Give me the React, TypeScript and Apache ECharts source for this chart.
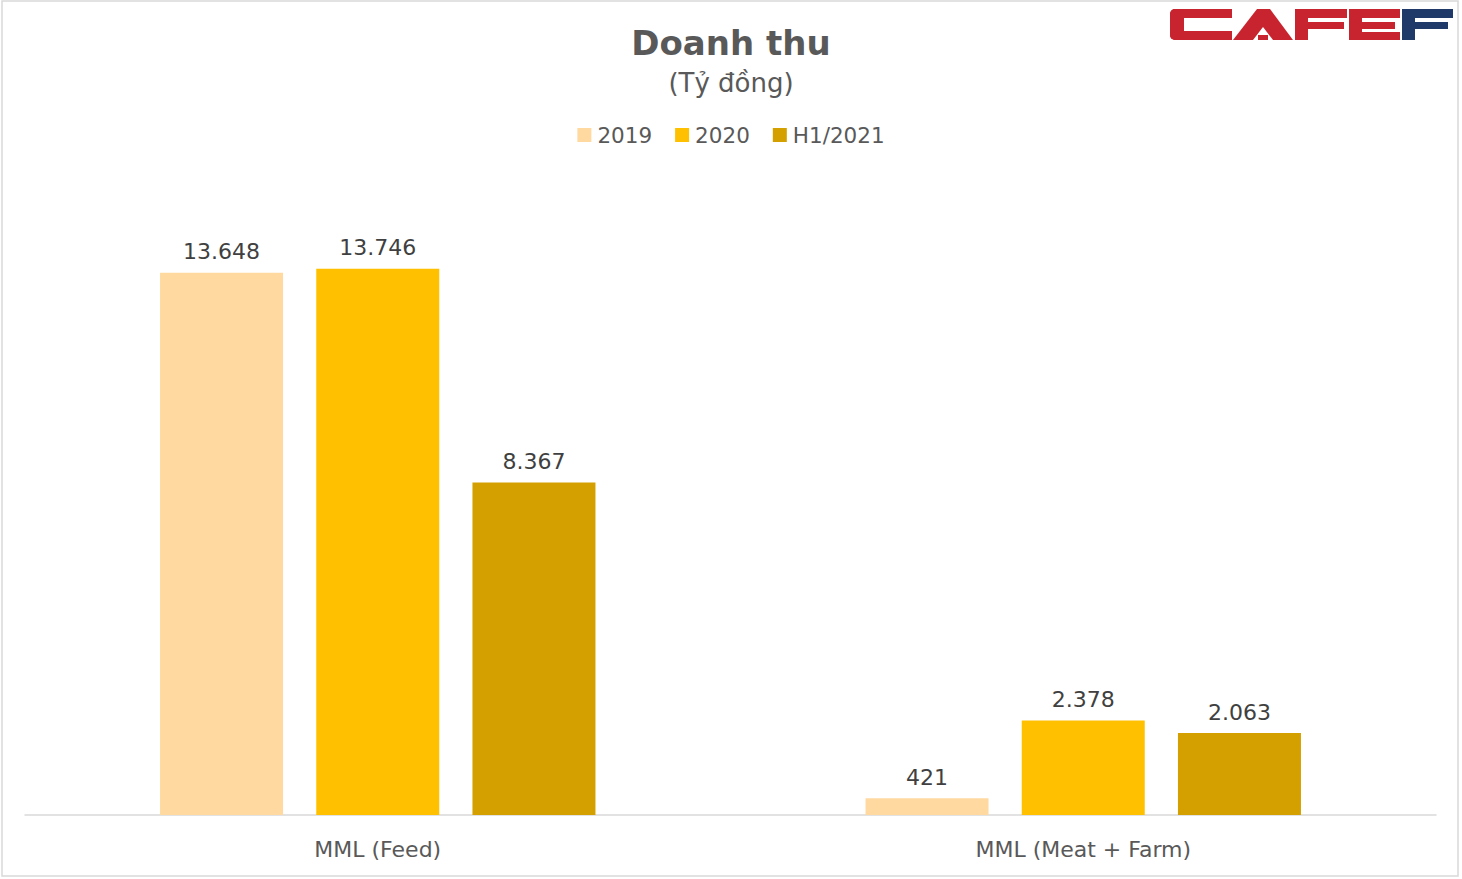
import React, { useEffect, useRef } from "react";
import * as echarts from "echarts";

const categories = ["MML (Feed)", "MML (Meat + Farm)"];
const seriesNames = ["2019", "2020", "H1/2021"];
const values2019 = [13648, 421];
const values2020 = [13746, 2378];
const valuesH12021 = [8367, 2063];
const colors = ["#FFD9A0", "#FFC000", "#D3A000"];

const fmt = (v: number) => String(v).replace(/\B(?=(\d{3})+(?!\d))/g, ".");

const FONT = "DejaVu Sans";
const RED = "#C8242F";
const BLUE = "#1F3A68";

export default function App() {
  const ref = useRef<HTMLDivElement>(null);
  useEffect(() => {
    document.body.style.margin = "0";
    const chart = echarts.init(ref.current!, undefined, { renderer: "svg" });
    const data = [values2019, values2020, valuesH12021];
    chart.setOption({
      animation: false,
      backgroundColor: "#ffffff",
      textStyle: { fontFamily: FONT },
      title: {
        text: "Doanh thu",
        subtext: "(Tỷ đồng)",
        left: "center",
        top: 21,
        itemGap: 10,
        textStyle: { fontFamily: FONT, fontSize: 34, fontWeight: "bold", color: "#595959" },
        subtextStyle: { fontFamily: FONT, fontSize: 26, color: "#595959" },
      },
      legend: {
        data: seriesNames,
        top: 119,
        left: "center",
        itemWidth: 14,
        itemHeight: 14,
        itemGap: 23,
        icon: "rect",
        textStyle: { fontFamily: FONT, fontSize: 21.5, color: "#595959", padding: [0, 0, 0, 1] },
      },
      grid: { left: 25, right: 26, top: 219, bottom: 64 },
      xAxis: {
        type: "category",
        data: categories,
        axisLine: { lineStyle: { color: "#D9D9D9", width: 1.5 } },
        axisTick: { show: false },
        axisLabel: { fontFamily: FONT, fontSize: 22, color: "#595959", margin: 23 },
      },
      yAxis: {
        type: "value",
        min: 0,
        max: 15000,
        show: false,
        splitLine: { show: false },
      },
      series: seriesNames.map((name, i) => ({
        name,
        type: "bar",
        data: data[i],
        barWidth: 123,
        barGap: "27%",
        itemStyle: { color: colors[i] },
        label: {
          show: true,
          position: "top",
          distance: 10,
          fontFamily: FONT,
          fontSize: 22,
          color: "#404040",
          formatter: (p: any) => fmt(p.value),
        },
      })),
      graphic: [
        {
          type: "rect",
          shape: { x: 2, y: 1, width: 1456, height: 875 },
          style: { fill: "none", stroke: "#D9D9D9", lineWidth: 1.5 },
          silent: true,
        },
        // C
        { type: "rect", shape: { x: 1170, y: 9, width: 62, height: 9, r: [5, 0, 0, 0] }, style: { fill: RED } },
        { type: "rect", shape: { x: 1170, y: 31, width: 62, height: 9, r: [0, 0, 0, 5] }, style: { fill: RED } },
        { type: "rect", shape: { x: 1170, y: 9, width: 14, height: 31, r: [5, 0, 0, 5] }, style: { fill: RED } },
        // A
        { type: "polygon", shape: { points: [[1233, 40], [1257, 9], [1270, 9], [1293, 40]] }, style: { fill: RED } },
        { type: "polygon", shape: { points: [[1253, 40], [1263, 27], [1273, 40]] }, style: { fill: "#ffffff" } },
        { type: "rect", shape: { x: 1258, y: 35, width: 10, height: 5 }, style: { fill: RED } },
        // F
        { type: "rect", shape: { x: 1295, y: 9, width: 52, height: 9 }, style: { fill: RED } },
        { type: "rect", shape: { x: 1295, y: 22, width: 49, height: 7 }, style: { fill: RED } },
        { type: "rect", shape: { x: 1295, y: 9, width: 13, height: 31 }, style: { fill: RED } },
        // E
        { type: "rect", shape: { x: 1349, y: 9, width: 51, height: 9 }, style: { fill: RED } },
        { type: "rect", shape: { x: 1349, y: 22, width: 46, height: 7 }, style: { fill: RED } },
        { type: "rect", shape: { x: 1349, y: 32, width: 51, height: 8 }, style: { fill: RED } },
        { type: "rect", shape: { x: 1349, y: 9, width: 13, height: 31 }, style: { fill: RED } },
        // F blue
        { type: "rect", shape: { x: 1402, y: 9, width: 51, height: 9 }, style: { fill: BLUE } },
        { type: "rect", shape: { x: 1402, y: 22, width: 46, height: 7 }, style: { fill: BLUE } },
        { type: "rect", shape: { x: 1402, y: 9, width: 13, height: 31 }, style: { fill: BLUE } },
      ],
    });
    return () => chart.dispose();
  }, []);
  return (
    <div
      ref={ref}
      style={{ position: "absolute", left: 0, top: 0, width: 1462, height: 879 }}
    />
  );
}
